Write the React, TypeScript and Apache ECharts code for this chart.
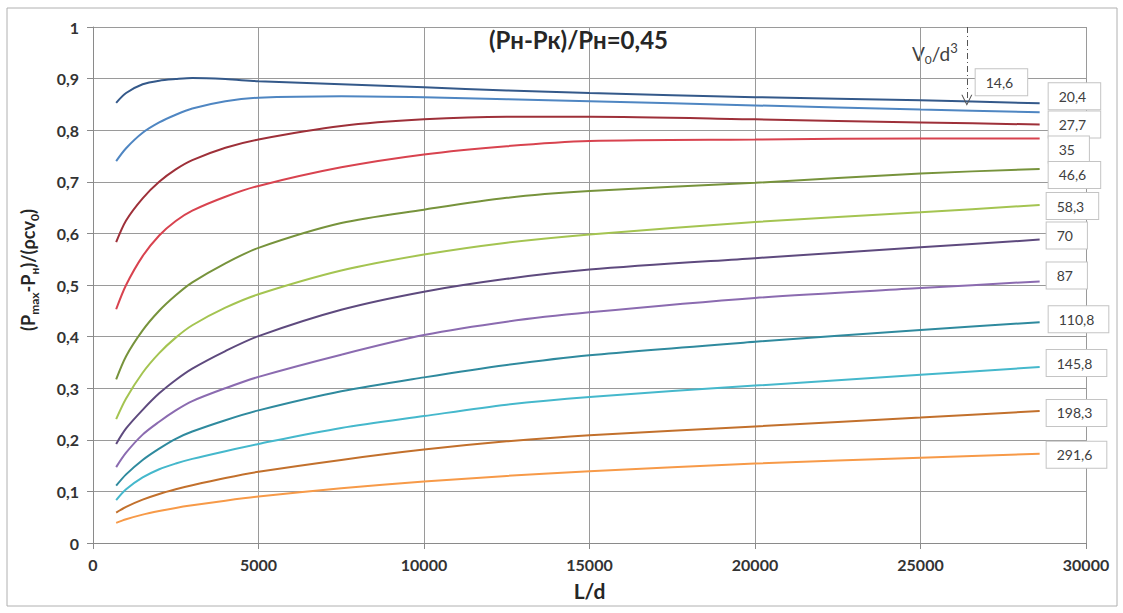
import React, { useEffect, useRef } from "react";
import * as echarts from "echarts";

// L/d sample points (shared by every curve)
const X = [700, 1000, 1500, 2000, 2500, 3000, 4000, 5000, 7500, 10000, 12500, 15000, 20000, 25000, 28600];

// V0/d^3 labels of the curves
const NAMES = ["14,6", "20,4", "27,7", "35", "46,6", "58,3", "70", "87", "110,8", "145,8", "198,3", "291,6"];

const V14_6 = [0.853, 0.872, 0.889, 0.896, 0.899, 0.901, 0.899, 0.895, 0.889, 0.883, 0.877, 0.872, 0.864, 0.858, 0.852];
const V20_4 = [0.740, 0.765, 0.795, 0.815, 0.830, 0.842, 0.856, 0.863, 0.866, 0.864, 0.860, 0.856, 0.848, 0.840, 0.835];
const V27_7 = [0.583, 0.625, 0.668, 0.700, 0.724, 0.742, 0.766, 0.782, 0.808, 0.821, 0.826, 0.826, 0.821, 0.815, 0.811];
const V35 = [0.453, 0.500, 0.556, 0.596, 0.624, 0.644, 0.671, 0.692, 0.728, 0.753, 0.769, 0.779, 0.782, 0.784, 0.784];
const V46_6 = [0.317, 0.362, 0.412, 0.450, 0.480, 0.505, 0.542, 0.572, 0.620, 0.646, 0.669, 0.682, 0.698, 0.716, 0.725];
const V58_3 = [0.240, 0.280, 0.330, 0.368, 0.398, 0.422, 0.456, 0.482, 0.528, 0.559, 0.582, 0.598, 0.622, 0.641, 0.655];
const V70 = [0.192, 0.222, 0.258, 0.290, 0.316, 0.338, 0.372, 0.401, 0.452, 0.487, 0.512, 0.530, 0.552, 0.573, 0.588];
const V87 = [0.147, 0.175, 0.210, 0.235, 0.257, 0.275, 0.300, 0.322, 0.365, 0.403, 0.429, 0.447, 0.475, 0.494, 0.507];
const V110_8 = [0.111, 0.133, 0.161, 0.183, 0.202, 0.216, 0.238, 0.257, 0.294, 0.321, 0.345, 0.364, 0.390, 0.413, 0.428];
const V145_8 = [0.083, 0.104, 0.127, 0.143, 0.154, 0.163, 0.178, 0.192, 0.223, 0.246, 0.268, 0.283, 0.305, 0.326, 0.341];
const V198_3 = [0.059, 0.070, 0.084, 0.095, 0.104, 0.112, 0.126, 0.138, 0.161, 0.181, 0.197, 0.209, 0.226, 0.243, 0.256];
const V291_6 = [0.039, 0.046, 0.055, 0.062, 0.068, 0.073, 0.082, 0.090, 0.106, 0.119, 0.130, 0.139, 0.154, 0.165, 0.173];

const VALUES = [V14_6, V20_4, V27_7, V35, V46_6, V58_3, V70, V87, V110_8, V145_8, V198_3, V291_6];

const COLORS = ["#34598a", "#4f86c2", "#9e3039", "#d8434f", "#77933c", "#a4c451", "#5e4a7e", "#8b6bb0", "#2f8a9e", "#45b8cc", "#c2702c", "#f79a48"];

// label box offsets relative to the line end
const LABEL_OFFSETS: [number, number][] = [
  [-72, -21], [1, -16], [1, 0], [1, 11], [1, 6], [-1, 1], [-1, -4], [-1, -6], [1, -3], [-1, -4], [-1, 2], [-1, 1],
];

// arrow marking V0/d^3
const ARROW_X = 26400;
const ARROW_Y = [1.0, 0.858];

const FONT = "Lato, 'Noto Sans', sans-serif";

export default function App() {
  const ref = useRef<HTMLDivElement>(null);
  useEffect(() => {
    if (!ref.current) return;
    const chart = echarts.init(ref.current, null, { renderer: "svg" });
    const series: any[] = NAMES.map((name, i) => {
      const s: any = {
        type: "line",
        name,
        data: X.map((x, j) => [x, VALUES[i][j]]),
        smooth: 0.3,
        showSymbol: false,
        symbol: "none",
        lineStyle: { color: COLORS[i], width: 2 },
        itemStyle: { color: COLORS[i] },
        endLabel: {
          show: true,
          formatter: name,
          offset: LABEL_OFFSETS[i],
          backgroundColor: "#ffffff",
          borderColor: "#c4c4c4",
          borderWidth: 1,
          padding: [6, 14, 6, 10],
          color: "#404040",
          fontSize: 14,
          fontFamily: FONT,
        },
        z: 3,
      };
      if (i === 0) {
        s.markLine = {
          silent: true,
          symbol: ["none", "path://M0,10L5,0L10,10L9,10L5,2L1,10Z"],
          symbolSize: 11,
          label: { show: false },
          lineStyle: { color: "#555", width: 1, type: [6, 3, 1, 3] },
          data: [[{ coord: [ARROW_X, ARROW_Y[0]] }, { coord: [ARROW_X, ARROW_Y[1]] }]],
        };
      }
      return s;
    });
    chart.setOption({
      animation: false,
      backgroundColor: "#ffffff",
      textStyle: { fontFamily: FONT },
      title: {
        text: "(Рн-Рк)/Рн=0,45",
        left: 484,
        top: 22,
        textStyle: { fontSize: 24, fontWeight: "bold", color: "#262626", fontFamily: FONT },
      },
      grid: { left: 93, right: 37, top: 27, bottom: 70, containLabel: false },
      xAxis: {
        type: "value",
        min: 0,
        max: 30000,
        interval: 5000,
        name: "L/d",
        nameLocation: "middle",
        nameGap: 37,
        nameTextStyle: { fontSize: 21, fontWeight: "bold", color: "#262626", fontFamily: FONT },
        axisLine: { show: true, lineStyle: { color: "#8a8a8a", width: 1 } },
        axisTick: { show: true, length: 6, lineStyle: { color: "#8a8a8a" } },
        axisLabel: {
          fontSize: 16,
          fontWeight: "bold",
          color: "#333",
          margin: 13,
          fontFamily: FONT,
          formatter: (v: number) => String(v),
        },
        splitLine: { show: true, lineStyle: { color: "#9a9a9a", width: 1 } },
      },
      yAxis: {
        type: "value",
        min: 0,
        max: 1,
        interval: 0.1,
        axisLine: { show: true, lineStyle: { color: "#8a8a8a", width: 1 } },
        axisTick: { show: true, length: 6, lineStyle: { color: "#8a8a8a" } },
        axisLabel: {
          fontSize: 16,
          fontWeight: "bold",
          color: "#333",
          margin: 14,
          fontFamily: FONT,
          formatter: (v: number) => (v === 0 ? "0" : v === 1 ? "1" : v.toFixed(1).replace(".", ",")),
        },
        splitLine: { show: true, lineStyle: { color: "#9a9a9a", width: 1 } },
      },
      graphic: [
        {
          type: "rect",
          shape: { x: 7, y: 8, width: 1110, height: 598 },
          style: { fill: "none", stroke: "#b0b0b0", lineWidth: 1 },
          silent: true,
        },
        {
          type: "text",
          x: 28,
          y: 270,
          rotation: Math.PI / 2,
          style: {
            text: "{m|(P}{s|max}{m|-P}{s|н}{m|)/(ρcv}{s|0}{m|)}",
            align: "center",
            verticalAlign: "middle",
            rich: {
              m: { fontSize: 18, fontWeight: "bold", fill: "#262626", lineHeight: 24, fontFamily: FONT },
              s: { fontSize: 12, fontWeight: "bold", fill: "#262626", lineHeight: 14, verticalAlign: "bottom", fontFamily: FONT },
            },
          },
          silent: true,
        },
        {
          type: "text",
          x: 912,
          y: 41,
          style: {
            text: "{a|V}{b|0}{a|/d}{c|3}",
            rich: {
              a: { fontSize: 19, fill: "#404040", lineHeight: 24, fontFamily: FONT },
              b: { fontSize: 12, fill: "#404040", lineHeight: 14, verticalAlign: "bottom", fontFamily: FONT },
              c: { fontSize: 13, fill: "#404040", lineHeight: 14, verticalAlign: "top", fontFamily: FONT },
            },
          },
          silent: true,
        },
      ],
      series,
    });
    return () => chart.dispose();
  }, []);
  return (
    <div
      ref={ref}
      style={{ position: "fixed", left: 0, top: 0, width: 1123, height: 613, background: "#fff" }}
    />
  );
}
